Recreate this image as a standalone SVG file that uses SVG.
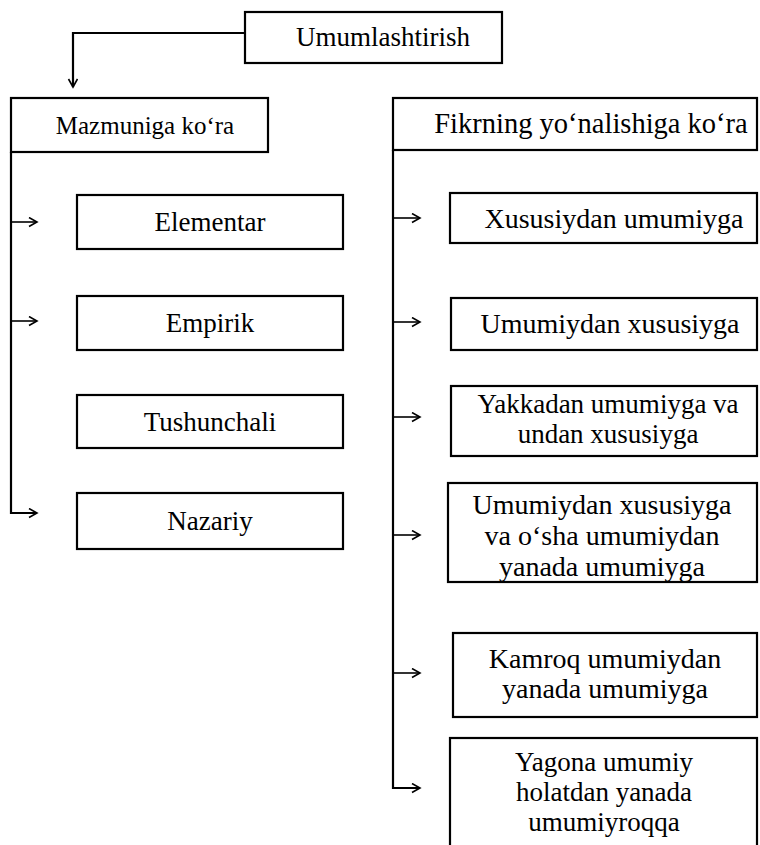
<svg xmlns="http://www.w3.org/2000/svg" width="760" height="845" viewBox="0 0 760 845">
<style>
.box{fill:#fff;stroke:#000;stroke-width:2.2}
.t{font-family:"Liberation Serif","Times New Roman",serif;font-size:27px;fill:#000;text-anchor:middle}
.r{font-size:28px}
.c{fill:none;stroke:#000;stroke-width:2.2}
.a{fill:none;stroke:#000;stroke-width:1.6}
</style>
<defs>
<marker id="arr" markerWidth="12" markerHeight="12" refX="9" refY="5" orient="auto" markerUnits="userSpaceOnUse">
<path d="M1,0.5 L9,5 L1,9.5" fill="none" stroke="#000" stroke-width="1.6"/>
</marker>
</defs>
<rect width="760" height="845" fill="#fff"/>
<g id="connectors">
<path class="c" d="M245,33 H73 V87" marker-end="url(#arr)"/>
<path class="c" d="M11,152 V513 H37" marker-end="url(#arr)"/>
<path class="a" d="M11,222 H37" marker-end="url(#arr)"/>
<path class="a" d="M11,321 H37" marker-end="url(#arr)"/>
<path class="c" d="M393,150 V788 H420" marker-end="url(#arr)"/>
<path class="a" d="M393,218 H420" marker-end="url(#arr)"/>
<path class="a" d="M393,322 H420" marker-end="url(#arr)"/>
<path class="a" d="M393,417 H420" marker-end="url(#arr)"/>
<path class="a" d="M393,535 H420" marker-end="url(#arr)"/>
<path class="a" d="M393,673 H420" marker-end="url(#arr)"/>
</g>
<g id="umumlashtirish">
<rect class="box" x="245" y="12" width="257" height="51"/>
<text class="t" x="383" y="46">Umumlashtirish</text>
</g>
<g id="mazmuniga">
<rect class="box" x="11" y="98" width="257" height="54"/>
<text class="t" x="145" y="134" style="font-size:25px">Mazmuniga koʻra</text>
</g>
<g id="elementar">
<rect class="box" x="77" y="195" width="266" height="54"/>
<text class="t" x="210" y="231">Elementar</text>
</g>
<g id="empirik">
<rect class="box" x="77" y="296" width="266" height="54"/>
<text class="t" x="210" y="332">Empirik</text>
</g>
<g id="tushunchali">
<rect class="box" x="77" y="395" width="266" height="53"/>
<text class="t" x="210" y="431">Tushunchali</text>
</g>
<g id="nazariy">
<rect class="box" x="77" y="493" width="266" height="56"/>
<text class="t" x="210" y="530">Nazariy</text>
</g>
<g id="fikrning">
<rect class="box" x="393" y="98" width="364" height="52"/>
<text class="t" x="591" y="133" style="font-size:28.5px">Fikrning yoʻnalishiga koʻra</text>
</g>
<g id="xususiydan">
<rect class="box" x="450" y="193" width="307" height="50"/>
<text class="t r" x="614" y="228">Xususiydan umumiyga</text>
</g>
<g id="umumiydan">
<rect class="box" x="451" y="298" width="306" height="52"/>
<text class="t r" x="610" y="333">Umumiydan xususiyga</text>
</g>
<g id="yakkadan">
<rect class="box" x="451" y="386" width="306" height="70"/>
<text class="t" x="608" y="413">Yakkadan umumiyga va</text>
<text class="t" x="608" y="443">undan xususiyga</text>
</g>
<g id="umumiydan2">
<rect class="box" x="448" y="483" width="309" height="99"/>
<text class="t r" x="602" y="514">Umumiydan xususiyga</text>
<text class="t r" x="602" y="545">va oʻsha umumiydan</text>
<text class="t r" x="602" y="576">yanada umumiyga</text>
</g>
<g id="kamroq">
<rect class="box" x="453" y="633" width="304" height="84"/>
<text class="t r" x="605" y="668">Kamroq umumiydan</text>
<text class="t r" x="605" y="698">yanada umumiyga</text>
</g>
<g id="yagona">
<rect class="box" x="450" y="738" width="307" height="120"/>
<text class="t" x="604" y="771">Yagona umumiy</text>
<text class="t" x="604" y="801">holatdan yanada</text>
<text class="t" x="604" y="831">umumiyroqqa</text>
</g>
</svg>
